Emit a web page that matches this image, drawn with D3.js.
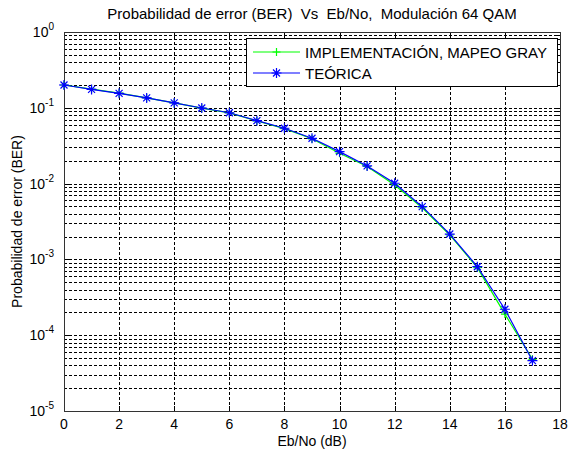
<!DOCTYPE html>
<html><head><meta charset="utf-8">
<script src="https://cdn.jsdelivr.net/npm/d3@7"></script>
<style>
html,body{margin:0;padding:0;background:#fff;}
text{font-family:"Liberation Sans",Arial,sans-serif;fill:#000;white-space:pre;}
</style></head>
<body>
<svg id="chart" width="569" height="452"></svg>
<script>
const ebno = [0,1,2,3,4,5,6,7,8,9,10,11,12,13,14,15,16,17];
const berTeorica = [0.200,0.175,0.155,0.135,0.116,0.0994,0.0861,0.0676,0.0537,0.0396,0.0264,0.0171,0.0101,0.00496,0.00216,0.000801,0.000220,0.0000461];
const berImpl = [0.200,0.176,0.156,0.135,0.116,0.0990,0.0858,0.0672,0.0532,0.0390,0.0251,0.0168,0.0096,0.00480,0.00210,0.000780,0.000190,0.0000481];
const xTicks = [0,2,4,6,8,10,12,14,16,18];
const yExps = [0,-1,-2,-3,-4,-5];
const legendLabels = ["IMPLEMENTACIÓN, MAPEO GRAY","TEÓRICA"];
const titleText = "Probabilidad de error (BER)  Vs  Eb/No,  Modulación 64 QAM";
const xLabel = "Eb/No (dB)";
const yLabel = "Probabilidad de error (BER)";

const svg = d3.select("#chart");
const L=64, R=560, T=32, B=411;
const x = d3.scaleLinear().domain([0,18]).range([L,R]);
const y = d3.scaleLog().domain([1e-5,1]).range([B,T]);

const g = svg.append("g");
const yGrid = [];
for(let e=-5;e<0;e++){ for(let m=1;m<=9;m++){ yGrid.push(m*Math.pow(10,e)); } }
yGrid.push(1);
g.selectAll("line.yg").data(yGrid.filter(v=>v>1e-5 && v<1)).enter().append("line")
 .attr("x1",L).attr("x2",R).attr("y1",d=>Math.round(y(d))+0.5).attr("y2",d=>Math.round(y(d))+0.5)
 .attr("stroke","#000").attr("stroke-width",1).attr("stroke-dasharray","3,2");
g.selectAll("line.xg").data(xTicks.filter(v=>v>0&&v<18)).enter().append("line")
 .attr("y1",T).attr("y2",B).attr("x1",d=>Math.round(x(d))+0.5).attr("x2",d=>Math.round(x(d))+0.5)
 .attr("stroke","#000").attr("stroke-width",1).attr("stroke-dasharray","3,2");

xTicks.forEach(v=>{
  const xx=Math.round(x(v))+0.5;
  g.append("line").attr("x1",xx).attr("x2",xx).attr("y1",B).attr("y2",B-5).attr("stroke","#000");
  g.append("line").attr("x1",xx).attr("x2",xx).attr("y1",T).attr("y2",T+5).attr("stroke","#000");
});
yGrid.forEach(v=>{
  const yy=Math.round(y(v))+0.5;
  const major = Math.abs(Math.log10(v)-Math.round(Math.log10(v)))<1e-9;
  const len = major?5:3;
  g.append("line").attr("x1",L).attr("x2",L+len).attr("y1",yy).attr("y2",yy).attr("stroke","#000");
  g.append("line").attr("x1",R).attr("x2",R-len).attr("y1",yy).attr("y2",yy).attr("stroke","#000");
});

g.append("rect").attr("x",L+0.5).attr("y",T+0.5).attr("width",R-L).attr("height",B-T)
 .attr("fill","none").attr("stroke","#333").attr("stroke-width",1);

svg.selectAll("text.xt").data(xTicks).enter().append("text")
 .attr("x",d=>x(d)).attr("y",B+18).attr("text-anchor","middle").attr("font-size",14).text(d=>d);
yExps.forEach(e=>{
  const t = svg.append("text").attr("x",L-10).attr("y",y(Math.pow(10,e))+5).attr("text-anchor","end").attr("font-size",14);
  t.append("tspan").text("10");
  t.append("tspan").attr("dy",-7).attr("font-size",10).text(e);
});

const line = d3.line().x((d,i)=>x(ebno[i])).y(d=>y(d));
function pts(sel, data){
  return sel.selectAll(null).data(data).enter().append("g")
   .attr("transform",(d,i)=>`translate(${x(ebno[i])},${y(d)})`);
}
const plusD = "M-4,0H4M0,-4V4";
const starD = "M-5,0H5M0,-5V5M-3.5,-3.5L3.5,3.5M-3.5,3.5L3.5,-3.5";
svg.append("path").datum(berImpl).attr("d",line).attr("fill","none").attr("stroke","#00ff00").attr("stroke-width",1.2);
pts(svg, berImpl).append("path").attr("d",plusD).attr("stroke","#00ff00").attr("stroke-width",1.2);
svg.append("path").datum(berTeorica).attr("d",line).attr("fill","none").attr("stroke","#0000ff").attr("stroke-width",1.2);
pts(svg, berTeorica).append("path").attr("d",starD).attr("stroke","#0000ff").attr("stroke-width",1.2);

const lg = svg.append("g");
lg.append("rect").attr("x",246.5).attr("y",38.5).attr("width",311).attr("height",48)
 .attr("fill","#fff").attr("stroke","#000").attr("stroke-width",1);
const legColors=["#00ff00","#0000ff"];
legendLabels.forEach((lab,i)=>{
  const yy = 52 + i*21;
  lg.append("line").attr("x1",253).attr("x2",300).attr("y1",yy).attr("y2",yy).attr("stroke",legColors[i]).attr("stroke-width",1.2);
  lg.append("path").attr("transform",`translate(276.5,${yy})`).attr("d",i===0?plusD:starD).attr("stroke",legColors[i]).attr("stroke-width",1.2);
  lg.append("text").attr("x",305).attr("y",yy+5.5).attr("font-size",15).text(lab);
});

svg.append("text").attr("x",(L+R)/2).attr("y",19).attr("text-anchor","middle").attr("font-size",15).text(titleText);
svg.append("text").attr("x",(L+R)/2).attr("y",446).attr("text-anchor","middle").attr("font-size",14).text(xLabel);
svg.append("text").attr("transform",`translate(22,${(T+B)/2}) rotate(-90)`).attr("text-anchor","middle").attr("font-size",14).text(yLabel);
</script>
</body></html>
